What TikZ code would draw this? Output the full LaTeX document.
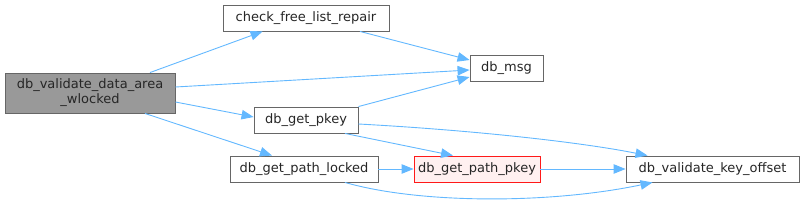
\documentclass[tikz,border=0pt]{standalone}
\usepackage{fontspec}
\setmainfont{DejaVu Sans}
\usepackage{tikz}
\usetikzlibrary{arrows.meta}
\definecolor{edgeblue}{HTML}{63B8FF}
\definecolor{boxgray}{HTML}{666666}
\definecolor{rootfill}{HTML}{999999}
\definecolor{hotfill}{HTML}{FFF0F0}
\tikzset{
  call-node/.style={draw=boxgray, fill=white, line width=0.9pt, inner sep=0pt,
    minimum height=26pt, align=center, text=black!85,
    font=\fontsize{13}{15}\selectfont},
  call-root/.style={call-node, fill=rootfill, minimum height=40pt},
  call-hot/.style={call-node, draw=red!90, fill=hotfill},
  call-edge/.style={draw=edgeblue, line width=0.9pt,
    -{Triangle[length=12pt, width=9.5pt]}}
}

\begin{document}
\begin{tikzpicture}[x=1pt, y=-1pt]
  \useasboundingbox (0,0) rectangle (803,204);

  % Caller
  \node[call-root, minimum width=170pt] (root) at (90,93) {db\_validate\_data\_area\\\_wlocked};

  % Callees
  \node[call-node, minimum width=166pt] (chkfree) at (306,18) {check\_free\_list\_repair};
  \node[call-node, minimum width=73pt] (msg) at (506.5,68) {db\_msg};
  \node[call-node, minimum width=104pt] (getpkey) at (306,120) {db\_get\_pkey};
  \node[call-node, minimum width=148pt] (pathlocked) at (304,169) {db\_get\_path\_locked};
  \node[call-hot, minimum width=126pt] (pathpkey) at (477,169) {db\_get\_path\_pkey};
  \node[call-node, minimum width=173pt] (keyoffset) at (712.5,169) {db\_validate\_key\_offset};

  % Calls from the root
  \draw[call-edge] ([xshift=60pt]root.north) -- ([xshift=40pt]chkfree.south west);
  \draw[call-edge] ([yshift=6pt]root.east) -- ([yshift=-2pt]msg.west);
  \draw[call-edge] ([yshift=-9pt]root.east) -- ([yshift=3pt]getpkey.west);
  \draw[call-edge] ([xshift=55pt]root.south) -- ([xshift=-32pt]pathlocked.north);

  % Calls further down
  \draw[call-edge] ([xshift=54pt]chkfree.south) -- ([yshift=8pt]msg.west);
  \draw[call-edge] (getpkey.north east) -- ([yshift=-9pt]msg.west);
  \draw[call-edge] ([xshift=39pt]getpkey.south) -- ([xshift=-24pt]pathpkey.north);
  \draw[call-edge] ([yshift=-4pt]getpkey.east) .. controls (470,130) and (580,142) .. ([xshift=-65pt]keyoffset.north);
  \draw[call-edge] (pathlocked.east) -- (pathpkey.west);
  \draw[call-edge] (pathpkey.east) -- (keyoffset.west);
  \draw[call-edge] ([xshift=41pt]pathlocked.south) .. controls (420,204) and (550,204) .. ([xshift=-60pt]keyoffset.south);
\end{tikzpicture}
\end{document}
